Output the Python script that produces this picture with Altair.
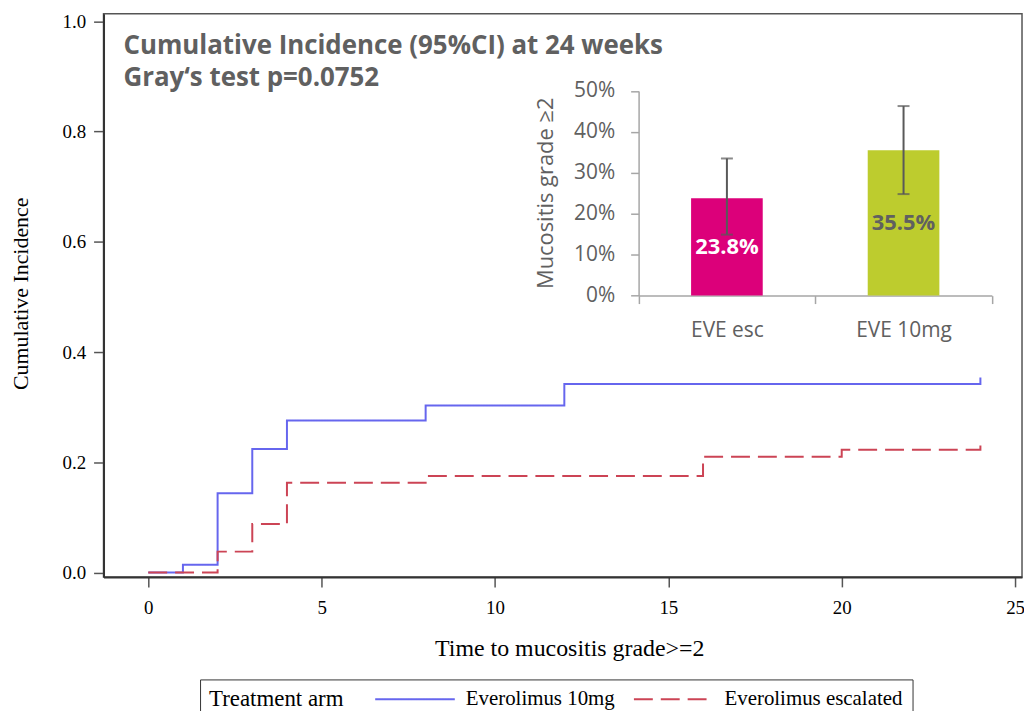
import altair as alt
import pandas as pd

# ---- main cumulative incidence curves ----
arms = ["Everolimus 10mg", "Everolimus escalated"]
t_10mg = [0, 1, 2, 3, 4, 8, 12, 24, 24]
ci_10mg = [0.0, 0.014, 0.144, 0.224, 0.276, 0.303, 0.342, 0.342, 0.354]
t_esc = [0, 2, 3, 4, 8, 16, 20, 24, 24]
ci_esc = [0.0, 0.038, 0.088, 0.163, 0.175, 0.210, 0.223, 0.223, 0.235]

x_ticks = [0, 5, 10, 15, 20, 25]
y_ticks = [0.0, 0.2, 0.4, 0.6, 0.8, 1.0]

# ---- inset bar chart ----
inset_groups = ["EVE esc", "EVE 10mg"]
inset_values = [0.238, 0.355]
inset_lo = [0.149, 0.248]
inset_hi = [0.335, 0.463]
inset_labels = ["23.8%", "35.5%"]
inset_ticks = [0.0, 0.1, 0.2, 0.3, 0.4, 0.5]

title_lines = ["Cumulative Incidence (95%CI) at 24 weeks", "Gray\u2018s test p=0.0752"]

rows = []
for i, (t, v) in enumerate(zip(t_10mg, ci_10mg)):
    rows.append({"arm": arms[0], "t": t, "ci": v, "idx": i})
for i, (t, v) in enumerate(zip(t_esc, ci_esc)):
    rows.append({"arm": arms[1], "t": t, "ci": v, "idx": i})
curves = pd.DataFrame(rows)

bars = pd.DataFrame({"group": inset_groups, "value": inset_values,
                     "lo": inset_lo, "hi": inset_hi, "label": inset_labels})

W, H = 923, 566
PL, PT = 96, 4
TOTAL_H = 703
SERIF = "Liberation Serif"
SANS = "Open Sans"
GRAY = "#606060"

main = alt.Chart(curves).mark_line(interpolate="step-after", strokeWidth=2).encode(
    x=alt.X("t:Q", scale=alt.Scale(domain=[-1.29, 25.2], nice=False, zero=False),
            axis=alt.Axis(values=x_ticks, format="d", title="Time to mucositis grade>=2",
                          grid=False, tickSize=10, labelPadding=12, domainWidth=2,
                          domainColor="#333333", tickColor="#555555", tickWidth=1.5,
                          labelFont=SERIF, labelFontSize=19, labelColor="black",
                          titleFont=SERIF, titleFontSize=24, titleFontWeight="normal",
                          titleColor="black", titleX=468, titleY=72, titleBaseline="middle")),
    y=alt.Y("ci:Q", scale=alt.Scale(domain=[-0.0079, 1.0137], nice=False, zero=False),
            axis=alt.Axis(values=y_ticks, format=".1f", title="Cumulative Incidence",
                          grid=False, tickSize=10, labelPadding=8, domainWidth=2,
                          domainColor="#333333", tickColor="#555555", tickWidth=1.5,
                          labelFont=SERIF, labelFontSize=19, labelColor="black",
                          titleFont=SERIF, titleFontSize=22, titleFontWeight="normal",
                          titleColor="black", titleX=-83, titleY=281, titleAngle=270,
                          titleBaseline="middle", titleAlign="center")),
    color=alt.Color("arm:N", scale=alt.Scale(domain=arms, range=["#6666ee", "#cc4455"]),
                    title="Treatment arm"),
    strokeDash=alt.StrokeDash("arm:N", scale=alt.Scale(domain=arms, range=[[1, 0], [19, 8]]),
                              title="Treatment arm"),
    order=alt.Order("idx:Q"),
)

xin = alt.X("group:N", sort=inset_groups,
            scale=alt.Scale(domain=inset_groups, range=[537.7, 892.7], paddingInner=0, paddingOuter=0),
            axis=alt.Axis(orient="bottom", offset=-282.7, title=None, labelAngle=0,
                          tickBand="extent", tickSize=8, labelPadding=16, domainColor="#a6a6a6",
                          tickColor="#a6a6a6", domainWidth=1.5, tickWidth=1.5,
                          labelFont=SANS, labelFontSize=21, labelColor=GRAY))
yin = alt.Y("value:Q", scale=alt.Scale(domain=[0, 0.5], range=[283.3, 77.6], nice=False),
            axis=alt.Axis(orient="left", offset=-537.7, values=inset_ticks, format=".0%",
                          grid=False, tickSize=8, labelPadding=16, domainColor="#a6a6a6",
                          tickColor="#a6a6a6", domainWidth=1.5, tickWidth=1.5,
                          labelFont=SANS, labelFontSize=21, labelColor=GRAY,
                          title="Mucositis grade \u22652", titleFont=SANS, titleFontSize=22,
                          titleFontWeight="normal", titleColor=GRAY, titleX=-94, titleY=180,
                          titleAngle=270, titleBaseline="middle", titleAlign="center"))

base_in = alt.Chart(bars)
xg = alt.X("group:N", sort=inset_groups)
bar_esc = base_in.transform_filter(alt.datum.group == inset_groups[0]).mark_bar(
    size=72, color="#dc007a").encode(x=xin, y=yin)
bar_10 = base_in.transform_filter(alt.datum.group == inset_groups[1]).mark_bar(
    size=72, color="#bdcc2e").encode(x=xg, y="value:Q")
err = base_in.mark_rule(color="#595959", strokeWidth=2).encode(x=xg, y="lo:Q", y2="hi:Q")
cap_lo = base_in.mark_tick(color="#595959", thickness=2, size=12, orient="horizontal").encode(
    x=xg, y="lo:Q")
cap_hi = base_in.mark_tick(color="#595959", thickness=2, size=12, orient="horizontal").encode(
    x=xg, y="hi:Q")
lab_esc = base_in.transform_filter(alt.datum.group == inset_groups[0]).transform_calculate(
    mid="datum.value / 2").mark_text(font=SANS, fontSize=22, fontWeight="bold", color="white").encode(
    x=xg, y="mid:Q", text="label:N")
lab_10 = base_in.transform_filter(alt.datum.group == inset_groups[1]).transform_calculate(
    mid="datum.value / 2").mark_text(font=SANS, fontSize=22, fontWeight="bold", color=GRAY).encode(
    x=xg, y="mid:Q", text="label:N")

inset = alt.layer(bar_esc, bar_10, err, cap_lo, cap_hi, lab_esc, lab_10)

chart = alt.layer(main, inset).resolve_scale(
    x="independent", y="independent"
).properties(
    width=W, height=H,
    autosize=alt.AutoSizeParams(type="none"),
    padding={"left": PL, "top": PT, "right": 2, "bottom": TOTAL_H - PT - H},
    title=alt.TitleParams(text=title_lines, anchor="start", frame="group", orient="top",
                          offset=-79, dx=20, font=SANS, fontSize=26, fontWeight="bold",
                          color=GRAY, lineHeight=32, baseline="top"),
).configure_view(stroke="#555555", strokeWidth=1.5).configure_legend(
    orient="none", legendX=97, legendY=669, direction="horizontal", titleOrient="left",
    titleFont=SERIF, titleFontSize=23, titleFontWeight="normal", titleColor="black",
    labelFont=SERIF, labelFontSize=21, labelColor="black", labelLimit=0, symbolType="stroke",
    symbolSize=6400, symbolStrokeWidth=2, clipHeight=22, strokeColor="#333333",
    padding=9, titlePadding=30, labelOffset=10, columnPadding=18, symbolOffset=0,
)

chart.save("out.html", embed_options={"renderer": "svg", "actions": False})
